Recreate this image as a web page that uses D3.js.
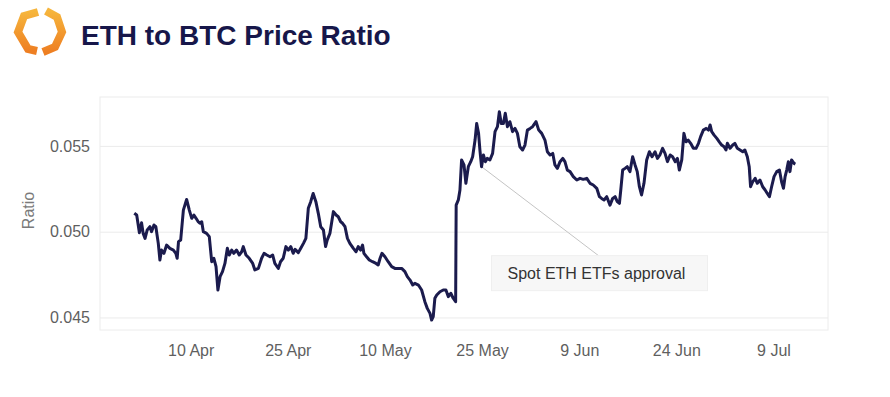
<!DOCTYPE html>
<html>
<head>
<meta charset="utf-8">
<script src="https://cdn.jsdelivr.net/npm/d3@7"></script>
<style>
  html, body { margin: 0; padding: 0; background: #ffffff; }
  svg { display: block; }
</style>
</head>
<body>
<svg id="chart" width="890" height="397"></svg>
<script>
// ---------------- DATA ----------------
const titleText = "ETH to BTC Price Ratio";
const yAxisTitle = "Ratio";
const yTickValues = [0.045, 0.050, 0.055];
const xTickDates = ["2024-04-10", "2024-04-25", "2024-05-10", "2024-05-25", "2024-06-09", "2024-06-24", "2024-07-09"];
const xDomainDates = ["2024-03-27T00", "2024-07-17T10"];
const yDomainValues = [0.04427, 0.05785];

const dates = [
  "2024-04-01T07","2024-04-01T16","2024-04-02T02","2024-04-02T10","2024-04-02T16","2024-04-02T23",
  "2024-04-03T07","2024-04-03T17","2024-04-03T23","2024-04-04T08","2024-04-04T15","2024-04-05T00",
  "2024-04-05T06","2024-04-05T12","2024-04-05T21","2024-04-06T07","2024-04-06T19","2024-04-07T08",
  "2024-04-07T17","2024-04-07T22","2024-04-08T03","2024-04-08T11","2024-04-08T21","2024-04-09T09",
  "2024-04-09T19","2024-04-10T04","2024-04-10T12","2024-04-10T20","2024-04-11T04","2024-04-11T10",
  "2024-04-11T17","2024-04-11T23","2024-04-12T11","2024-04-12T21","2024-04-13T06","2024-04-13T14",
  "2024-04-13T22","2024-04-14T05","2024-04-14T13","2024-04-14T22","2024-04-15T07","2024-04-15T16",
  "2024-04-15T23","2024-04-16T08","2024-04-16T16","2024-04-17T02","2024-04-17T12","2024-04-17T21",
  "2024-04-18T03","2024-04-18T13","2024-04-19T01","2024-04-19T14","2024-04-19T22","2024-04-20T11",
  "2024-04-20T23","2024-04-21T08","2024-04-21T18","2024-04-22T06","2024-04-22T16","2024-04-23T00",
  "2024-04-23T13","2024-04-23T21","2024-04-24T07","2024-04-24T17","2024-04-25T02","2024-04-25T11",
  "2024-04-25T20","2024-04-26T03","2024-04-26T15","2024-04-27T00","2024-04-27T10","2024-04-27T19",
  "2024-04-28T04","2024-04-28T13","2024-04-28T22","2024-04-29T08","2024-04-29T17","2024-04-30T02",
  "2024-04-30T12","2024-04-30T20","2024-05-01T02","2024-05-01T12","2024-05-02T01","2024-05-02T11",
  "2024-05-02T19","2024-05-03T04","2024-05-03T11","2024-05-03T20","2024-05-04T05","2024-05-04T14",
  "2024-05-05T03","2024-05-05T13","2024-05-05T21","2024-05-06T06","2024-05-06T13","2024-05-06T18",
  "2024-05-07T04","2024-05-07T14","2024-05-08T02","2024-05-08T15","2024-05-08T23","2024-05-09T06",
  "2024-05-09T13","2024-05-10T00","2024-05-10T12","2024-05-11T01","2024-05-11T13","2024-05-12T02",
  "2024-05-12T14","2024-05-13T02","2024-05-13T11","2024-05-13T21","2024-05-14T07","2024-05-14T15",
  "2024-05-15T04","2024-05-15T16","2024-05-16T04","2024-05-16T13","2024-05-16T23","2024-05-17T05",
  "2024-05-17T11","2024-05-17T17","2024-05-18T00","2024-05-18T12","2024-05-19T00","2024-05-19T10",
  "2024-05-19T19","2024-05-20T04","2024-05-20T13","2024-05-20T22","2024-05-21T00","2024-05-21T08",
  "2024-05-21T14","2024-05-21T20","2024-05-22T05","2024-05-22T12","2024-05-22T21","2024-05-23T06",
  "2024-05-23T13","2024-05-23T22","2024-05-24T04","2024-05-24T11","2024-05-24T16","2024-05-24T22",
  "2024-05-25T05","2024-05-25T12","2024-05-25T19","2024-05-26T05","2024-05-26T15","2024-05-27T00",
  "2024-05-27T09","2024-05-27T16","2024-05-27T23","2024-05-28T07","2024-05-28T14","2024-05-28T22",
  "2024-05-29T07","2024-05-29T17","2024-05-30T02","2024-05-30T11","2024-05-30T20","2024-05-31T06",
  "2024-05-31T15","2024-06-01T00","2024-06-01T10","2024-06-01T19","2024-06-02T08","2024-06-02T18",
  "2024-06-03T05","2024-06-03T17","2024-06-04T02","2024-06-04T12","2024-06-04T22","2024-06-05T06",
  "2024-06-05T15","2024-06-06T01","2024-06-06T11","2024-06-06T19","2024-06-07T04","2024-06-07T14",
  "2024-06-08T02","2024-06-08T15","2024-06-09T03","2024-06-09T15","2024-06-10T04","2024-06-10T16",
  "2024-06-11T04","2024-06-11T17","2024-06-12T03","2024-06-12T11","2024-06-12T20","2024-06-13T06",
  "2024-06-13T18","2024-06-14T04","2024-06-14T13","2024-06-14T21","2024-06-15T05","2024-06-15T10",
  "2024-06-15T17","2024-06-16T02","2024-06-16T10","2024-06-16T20","2024-06-17T06","2024-06-17T15",
  "2024-06-17T23","2024-06-18T07","2024-06-18T15","2024-06-19T00","2024-06-19T10","2024-06-19T20",
  "2024-06-20T06","2024-06-20T17","2024-06-21T02","2024-06-21T11","2024-06-21T21","2024-06-22T06",
  "2024-06-22T15","2024-06-23T01","2024-06-23T10","2024-06-23T20","2024-06-24T04","2024-06-24T11",
  "2024-06-24T20","2024-06-25T04","2024-06-25T12","2024-06-25T20","2024-06-26T05","2024-06-26T15",
  "2024-06-27T01","2024-06-27T10","2024-06-27T18","2024-06-28T04","2024-06-28T14","2024-06-28T23",
  "2024-06-29T05","2024-06-29T11","2024-06-29T20","2024-06-30T06","2024-06-30T15","2024-07-01T00",
  "2024-07-01T09","2024-07-01T16","2024-07-01T21","2024-07-02T07","2024-07-02T17","2024-07-03T01",
  "2024-07-03T10","2024-07-03T20","2024-07-04T06","2024-07-04T14","2024-07-04T23","2024-07-05T06",
  "2024-07-05T11","2024-07-05T19","2024-07-06T04","2024-07-06T12","2024-07-06T22","2024-07-07T08",
  "2024-07-07T17","2024-07-08T01","2024-07-08T09","2024-07-08T17","2024-07-09T02","2024-07-09T12",
  "2024-07-09T22","2024-07-10T06","2024-07-10T13","2024-07-10T19","2024-07-11T01","2024-07-11T07",
  "2024-07-11T13","2024-07-11T19","2024-07-12T04","2024-07-12T09"
];

const ratios = [
  0.05107,0.05097,0.04994,0.05052,0.04990,0.04961,
  0.05010,0.05029,0.05000,0.05039,0.05029,0.04932,
  0.04835,0.04893,0.04874,0.04922,0.04903,0.04893,
  0.04874,0.04845,0.04942,0.04951,0.05126,0.05188,
  0.05126,0.05078,0.05097,0.05078,0.05058,0.05049,
  0.05058,0.05000,0.04990,0.04971,0.04825,0.04845,
  0.04796,0.04660,0.04738,0.04767,0.04815,0.04903,
  0.04864,0.04893,0.04874,0.04893,0.04864,0.04883,
  0.04913,0.04864,0.04845,0.04815,0.04777,0.04786,
  0.04845,0.04874,0.04864,0.04854,0.04864,0.04815,
  0.04786,0.04825,0.04845,0.04913,0.04893,0.04913,
  0.04874,0.04897,0.04878,0.04903,0.04932,0.04961,
  0.05136,0.05175,0.05223,0.05175,0.05107,0.05029,
  0.05010,0.04913,0.04951,0.04990,0.05117,0.05097,
  0.05087,0.05058,0.05049,0.05029,0.04961,0.04932,
  0.04903,0.04883,0.04913,0.04893,0.04922,0.04874,
  0.04854,0.04835,0.04825,0.04815,0.04806,0.04845,
  0.04874,0.04854,0.04825,0.04796,0.04786,0.04786,
  0.04786,0.04767,0.04738,0.04718,0.04689,0.04699,
  0.04689,0.04660,0.04592,0.04553,0.04524,0.04485,
  0.04505,0.04612,0.04631,0.04650,0.04660,0.04660,
  0.04621,0.04641,0.04612,0.04592,0.05155,0.05185,
  0.05243,0.05418,0.05389,0.05282,0.05379,0.05408,
  0.05437,0.05534,0.05631,0.05573,0.05476,0.05379,
  0.05447,0.05408,0.05427,0.05418,0.05456,0.05583,
  0.05612,0.05699,0.05631,0.05631,0.05690,0.05612,
  0.05641,0.05583,0.05602,0.05573,0.05495,0.05476,
  0.05505,0.05592,0.05602,0.05612,0.05641,0.05592,
  0.05573,0.05534,0.05466,0.05447,0.05456,0.05389,
  0.05369,0.05408,0.05427,0.05408,0.05359,0.05350,
  0.05321,0.05301,0.05311,0.05305,0.05311,0.05282,
  0.05272,0.05253,0.05204,0.05194,0.05185,0.05204,
  0.05155,0.05194,0.05204,0.05175,0.05165,0.05243,
  0.05359,0.05369,0.05379,0.05350,0.05437,0.05389,
  0.05350,0.05262,0.05214,0.05282,0.05418,0.05466,
  0.05437,0.05466,0.05427,0.05447,0.05486,0.05456,
  0.05408,0.05447,0.05437,0.05408,0.05427,0.05359,
  0.05418,0.05573,0.05524,0.05534,0.05515,0.05486,
  0.05486,0.05515,0.05554,0.05592,0.05602,0.05592,
  0.05622,0.05583,0.05563,0.05544,0.05524,0.05505,
  0.05495,0.05476,0.05515,0.05486,0.05505,0.05515,
  0.05486,0.05476,0.05466,0.05476,0.05437,0.05379,
  0.05262,0.05291,0.05311,0.05282,0.05301,0.05262,
  0.05243,0.05223,0.05204,0.05262,0.05321,0.05350,
  0.05359,0.05291,0.05253,0.05321,0.05359,0.05408,
  0.05350,0.05418,0.05398,0.05394
];

const annotation = { date: "2024-05-24T22", value: 0.05379, label: "Spot ETH ETFs approval" };

// ---------------- CHART ----------------
const svg = d3.select("#chart");
const W = 890, H = 397;
const plot = { left: 100, right: 828, top: 97, bottom: 330 };

const parseTime = d3.utcParse("%Y-%m-%dT%H");
const parseDay = d3.utcParse("%Y-%m-%d");
const series = dates.map((d, i) => ({ t: parseTime(d), v: ratios[i] }));

const x = d3.scaleUtc()
  .domain(xDomainDates.map(parseTime))
  .range([plot.left, plot.right]);
const y = d3.scaleLinear()
  .domain(yDomainValues)
  .range([plot.bottom, plot.top]);

svg.append("rect").attr("width", W).attr("height", H).attr("fill", "#ffffff");

// Logo
const logo = svg.append("g").attr("class", "logo");
const grad = svg.append("defs").append("linearGradient")
  .attr("id", "logoGrad").attr("x1", "0").attr("y1", "0").attr("x2", "0").attr("y2", "1");
grad.append("stop").attr("offset", "0%").attr("stop-color", "#f6b53c");
grad.append("stop").attr("offset", "100%").attr("stop-color", "#ee7f22");
logo.append("path")
  .attr("d", "M38,12 L24,16 L18,32 L28,49 L37,51")
  .attr("fill", "none").attr("stroke", "url(#logoGrad)").attr("stroke-width", 8)
  .attr("stroke-linejoin", "miter");
logo.append("path")
  .attr("d", "M46,11 L57,17 L62,32 L55,47 L43,52")
  .attr("fill", "none").attr("stroke", "url(#logoGrad)").attr("stroke-width", 8)
  .attr("stroke-linejoin", "miter");

// Title
svg.append("text")
  .attr("x", 81).attr("y", 45)
  .attr("font-family", "Liberation Sans, Arial, sans-serif")
  .attr("font-weight", "bold").attr("font-size", 28)
  .attr("fill", "#17174a")
  .text(titleText);

// Plot frame
svg.append("rect")
  .attr("x", plot.left).attr("y", plot.top)
  .attr("width", plot.right - plot.left).attr("height", plot.bottom - plot.top)
  .attr("fill", "none").attr("stroke", "#ececec").attr("stroke-width", 1);

// Y grid + axis
const yAxis = d3.axisLeft(y).tickValues(yTickValues).tickFormat(d3.format(".3f"))
  .tickSize(-(plot.right - plot.left)).tickPadding(10);
const gy = svg.append("g").attr("transform", `translate(${plot.left},0)`).call(yAxis);
gy.select(".domain").remove();
gy.selectAll(".tick line").attr("stroke", "#ebebeb").attr("stroke-width", 1);
gy.selectAll(".tick text")
  .attr("font-family", "Liberation Sans, Arial, sans-serif")
  .attr("font-size", 16).attr("fill", "#5f5f5f");

// X axis
const xAxis = d3.axisBottom(x).tickValues(xTickDates.map(parseDay))
  .tickFormat(d3.utcFormat("%-d %b")).tickSize(0).tickPadding(15);
const gx = svg.append("g").attr("transform", `translate(0,${plot.bottom})`).call(xAxis);
gx.select(".domain").remove();
gx.selectAll(".tick text")
  .attr("font-family", "Liberation Sans, Arial, sans-serif")
  .attr("font-size", 16).attr("fill", "#5f5f5f");

// Y axis title
svg.append("text")
  .attr("transform", `translate(34,${(plot.top + plot.bottom) / 2 - 3}) rotate(-90)`)
  .attr("text-anchor", "middle")
  .attr("font-family", "Liberation Sans, Arial, sans-serif")
  .attr("font-size", 16).attr("fill", "#7a7a7a")
  .text(yAxisTitle);

// Annotation connector (drawn beneath line)
const ax = x(parseTime(annotation.date)), ay = y(annotation.value);
const boxX = ax + 10, boxY = ay + 89, boxW = 216, boxH = 35;
svg.append("line")
  .attr("x1", ax).attr("y1", ay)
  .attr("x2", ax + 117).attr("y2", boxY)
  .attr("stroke", "#c4c4c4").attr("stroke-width", 1);

// Line
const line = d3.line().x(d => x(d.t)).y(d => y(d.v)).curve(d3.curveLinear);
svg.append("path")
  .datum(series)
  .attr("d", line)
  .attr("fill", "none")
  .attr("stroke", "#1b1b4d")
  .attr("stroke-width", 3)
  .attr("stroke-linejoin", "round");

// Annotation box
svg.append("rect")
  .attr("x", boxX).attr("y", boxY).attr("width", boxW).attr("height", boxH)
  .attr("fill", "#f7f7f7").attr("stroke", "#efefef");
svg.append("text")
  .attr("x", boxX + 16).attr("y", boxY + 23)
  .attr("font-family", "Liberation Sans, Arial, sans-serif")
  .attr("font-size", 16).attr("fill", "#333333")
  .text(annotation.label);
</script>
</body>
</html>
